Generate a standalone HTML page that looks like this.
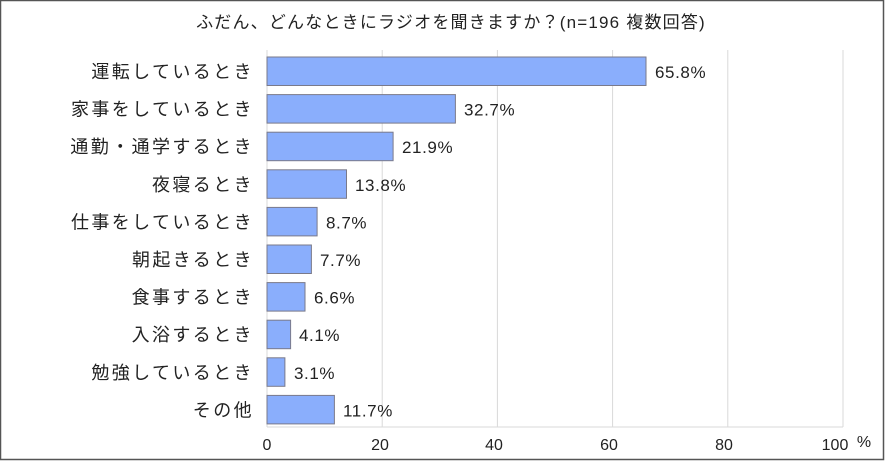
<!DOCTYPE html>
<html><head><meta charset="utf-8"><style>
body{margin:0;background:#fff;}
svg text{font-family:"Liberation Sans","Noto Sans CJK JP",sans-serif;fill:#222;}
</style></head><body>
<svg width="885" height="461" xmlns="http://www.w3.org/2000/svg">
<rect x="0.5" y="0.5" width="883" height="459" fill="#fff" stroke="#555" stroke-width="1.5"/>
<text x="451" y="28" font-size="17" letter-spacing="1.2" text-anchor="middle">ふだん、どんなときにラジオを聞きますか？(n=196 複数回答)</text>
<g stroke="#d9d9d9" stroke-width="1">
<line x1="267" y1="50" x2="267" y2="427"/>
<line x1="382.2" y1="50" x2="382.2" y2="427"/>
<line x1="497.4" y1="50" x2="497.4" y2="427"/>
<line x1="612.6" y1="50" x2="612.6" y2="427"/>
<line x1="727.8" y1="50" x2="727.8" y2="427"/>
<line x1="843" y1="50" x2="843" y2="427"/>
<line x1="267" y1="427" x2="843" y2="427"/>
</g>
<g fill="#8aaefc" stroke="#7a7a8a" stroke-width="1">
<rect x="267" y="57" width="379" height="28.5"/>
<rect x="267" y="94.6" width="188.4" height="28.5"/>
<rect x="267" y="132.2" width="126.1" height="28.5"/>
<rect x="267" y="169.8" width="79.5" height="28.5"/>
<rect x="267" y="207.4" width="50.1" height="28.5"/>
<rect x="267" y="245" width="44.4" height="28.5"/>
<rect x="267" y="282.6" width="38" height="28.5"/>
<rect x="267" y="320.2" width="23.6" height="28.5"/>
<rect x="267" y="357.8" width="17.9" height="28.5"/>
<rect x="267" y="395.4" width="67.4" height="28.5"/>
</g>
<g font-size="18" letter-spacing="2.4" text-anchor="end">
<text x="254" y="78">運転しているとき</text>
<text x="254" y="115.6">家事をしているとき</text>
<text x="254" y="153.2">通勤・通学するとき</text>
<text x="254" y="190.8">夜寝るとき</text>
<text x="254" y="228.4">仕事をしているとき</text>
<text x="254" y="266">朝起きるとき</text>
<text x="254" y="303.6">食事するとき</text>
<text x="254" y="341.2">入浴するとき</text>
<text x="254" y="378.8">勉強しているとき</text>
<text x="254" y="416.4">その他</text>
</g>
<g font-size="17" letter-spacing="0.6">
<text x="655" y="78">65.8%</text>
<text x="464" y="115.6">32.7%</text>
<text x="402" y="153.2">21.9%</text>
<text x="355" y="190.8">13.8%</text>
<text x="326" y="228.4">8.7%</text>
<text x="320" y="266">7.7%</text>
<text x="314" y="303.6">6.6%</text>
<text x="299" y="341.2">4.1%</text>
<text x="294" y="378.8">3.1%</text>
<text x="343" y="416.4">11.7%</text>
</g>
<g font-size="16" text-anchor="middle">
<text x="267" y="450">0</text>
<text x="380" y="450">20</text>
<text x="494" y="450">40</text>
<text x="609" y="450">60</text>
<text x="724" y="450">80</text>
<text x="835" y="450">100</text>
<text x="864" y="447">%</text>
</g>
</svg>
</body></html>
